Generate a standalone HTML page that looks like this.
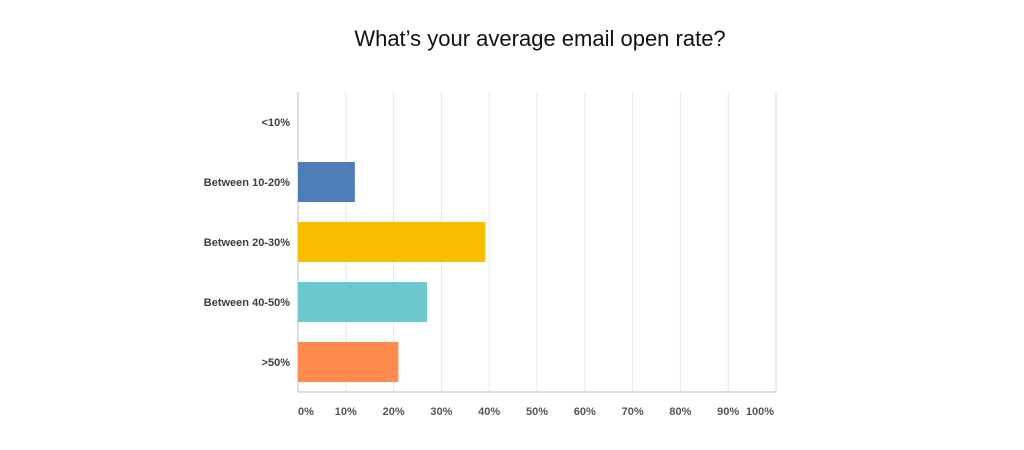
<!DOCTYPE html>
<html><head><meta charset="utf-8"><style>
body{margin:0;background:#fff;width:1024px;height:445px;overflow:hidden;font-family:"Liberation Sans",sans-serif}
</style></head><body>
<svg width="1024" height="445" xmlns="http://www.w3.org/2000/svg">
<text x="540" y="46" text-anchor="middle" font-size="22" fill="#111">What’s your average email open rate?</text>
<g id="grid"></g><g id="bars"></g><g id="ylabels"></g><g id="xlabels"></g>
</svg>
<script>
const categories=["<10%","Between 10-20%","Between 20-30%","Between 40-50%",">50%"];
const values=[0,11.9,39.2,27.0,21.0];
const colors=["#4f7db8","#4f7db8","#f9be00","#6bc8cd","#ff8b4f"];
const ticks=[0,10,20,30,40,50,60,70,80,90,100];
const tickLabels=["0%","10%","20%","30%","40%","50%","60%","70%","80%","90%","100%"];
const X0=298,X1=776,Y0=92,Y1=392,ns="http://www.w3.org/2000/svg";
const x=v=>X0+(X1-X0)*v/100;
const band=(Y1-Y0)/categories.length;
const y=i=>Y0+band*i;
function mk(t,a,p){const e=document.createElementNS(ns,t);for(const k in a)e.setAttribute(k,a[k]);document.getElementById(p).appendChild(e);return e;}
ticks.forEach((t,i)=>{
 if(t>0){const l=mk('line',{x1:x(t),x2:x(t),y1:Y0,y2:Y1,stroke:t==100?'#e0e0e0':'#e8e8e8','stroke-width':1},'grid');
 
 }
 let xx=x(t),anc='middle';
 if(i==0){xx=X0;anc='start';} if(i==ticks.length-1){xx=X1-2;anc='end';}
 const tx=mk('text',{x:xx,y:415,'text-anchor':anc,'font-size':11,'font-weight':'bold',fill:'#555'},'xlabels');
 tx.textContent=tickLabels[i];
 
 
});
const ax=mk('line',{x1:X0,x2:X0,y1:Y0,y2:Y1,stroke:'#bbb'},'grid');


const bx=mk('line',{x1:X0,x2:X1,y1:Y1,y2:Y1,stroke:'#bbb'},'grid');


categories.forEach((c,i)=>{
 const r=mk('rect',{x:X0,y:y(i)+10,width:x(values[i])-X0,height:band-20,fill:colors[i]},'bars');
 
 
 const t=mk('text',{x:290,y:y(i)+band/2+4,'text-anchor':'end','font-size':11,'font-weight':'bold',fill:'#3a3f45'},'ylabels');
 t.textContent=c;
 
 
});
</script>
</body></html>
